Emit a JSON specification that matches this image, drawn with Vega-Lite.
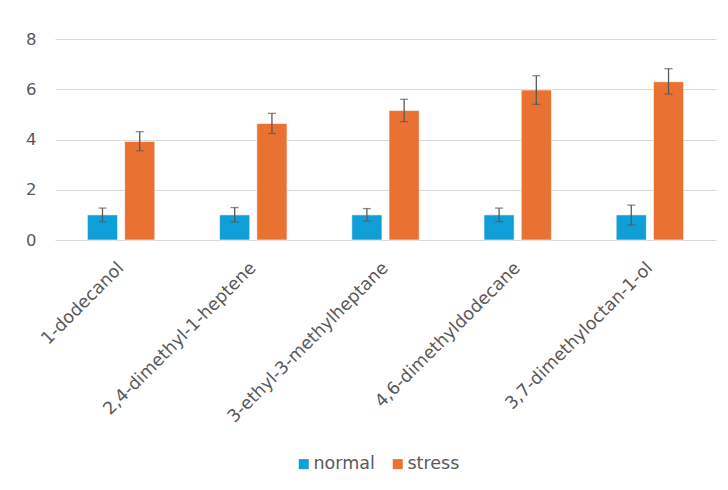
{
  "$schema": "https://vega.github.io/schema/vega-lite/v6.json",
  "width": 661,
  "height": 201,
  "autosize": "none",
  "padding": {"left": 55, "top": 39, "right": 12, "bottom": 250},
  "background": "white",
  "config": {
    "view": {"stroke": null},
    "font": "DejaVu Sans"
  },
  "data": {
    "values": [
      {"compound": "1-dodecanol", "group": "normal", "value": 1.0, "lo": 0.73, "hi": 1.27},
      {"compound": "1-dodecanol", "group": "stress", "value": 3.92, "lo": 3.55, "hi": 4.31},
      {"compound": "2,4-dimethyl-1-heptene", "group": "normal", "value": 1.0, "lo": 0.72, "hi": 1.29},
      {"compound": "2,4-dimethyl-1-heptene", "group": "stress", "value": 4.64, "lo": 4.24, "hi": 5.04},
      {"compound": "3-ethyl-3-methylheptane", "group": "normal", "value": 1.0, "lo": 0.76, "hi": 1.25},
      {"compound": "3-ethyl-3-methylheptane", "group": "stress", "value": 5.15, "lo": 4.71, "hi": 5.6},
      {"compound": "4,6-dimethyldodecane", "group": "normal", "value": 1.0, "lo": 0.73, "hi": 1.27},
      {"compound": "4,6-dimethyldodecane", "group": "stress", "value": 5.97, "lo": 5.4, "hi": 6.54},
      {"compound": "3,7-dimethyloctan-1-ol", "group": "normal", "value": 1.0, "lo": 0.6, "hi": 1.39},
      {"compound": "3,7-dimethyloctan-1-ol", "group": "stress", "value": 6.3, "lo": 5.81, "hi": 6.82}
    ]
  },
  "encoding": {
    "x": {
      "field": "compound",
      "type": "nominal",
      "sort": null,
      "scale": {"paddingInner": 0.49, "paddingOuter": 0.245},
      "axis": {
        "title": null,
        "labelAngle": -45,
        "labelAlign": "right",
        "labelBaseline": "middle",
        "labelPadding": 25,
        "labelFontSize": 17.5,
        "labelColor": "#595959",
        "ticks": false,
        "domain": false,
        "labelLimit": 300
      }
    },
    "xOffset": {
      "field": "group",
      "type": "nominal",
      "scale": {"paddingInner": 0.19, "paddingOuter": 0}
    }
  },
  "layer": [
    {
      "mark": {"type": "bar", "stroke": "white", "strokeWidth": 0.6},
      "encoding": {
        "y": {
          "field": "value",
          "type": "quantitative",
          "scale": {"domain": [0, 8]},
          "axis": {
            "title": null,
            "values": [0, 2, 4, 6, 8],
            "ticks": false,
            "domain": false,
            "labelPadding": 19,
            "labelFontSize": 16.5,
            "labelColor": "#595959",
            "gridColor": "#d9d9d9",
            "gridWidth": 1.2
          }
        },
        "color": {
          "field": "group",
          "type": "nominal",
          "scale": {"domain": ["normal", "stress"], "range": ["#0f9ed5", "#e97132"]},
          "legend": {
            "title": null,
            "orient": "none",
            "direction": "horizontal",
            "legendX": 240,
            "legendY": 416,
            "symbolType": "square",
            "symbolSize": 100,
            "symbolStrokeWidth": 0,
            "labelFontSize": 17.5,
            "labelColor": "#595959",
            "columnPadding": 14,
            "labelOffset": 1
          }
        }
      }
    },
    {
      "mark": {"type": "rule", "color": "#595959", "strokeWidth": 1.3},
      "encoding": {
        "y": {"field": "lo", "type": "quantitative"},
        "y2": {"field": "hi"}
      }
    },
    {
      "mark": {"type": "tick", "color": "#595959", "size": 8, "thickness": 1.3},
      "encoding": {"y": {"field": "lo", "type": "quantitative"}}
    },
    {
      "mark": {"type": "tick", "color": "#595959", "size": 8, "thickness": 1.3},
      "encoding": {"y": {"field": "hi", "type": "quantitative"}}
    }
  ]
}
